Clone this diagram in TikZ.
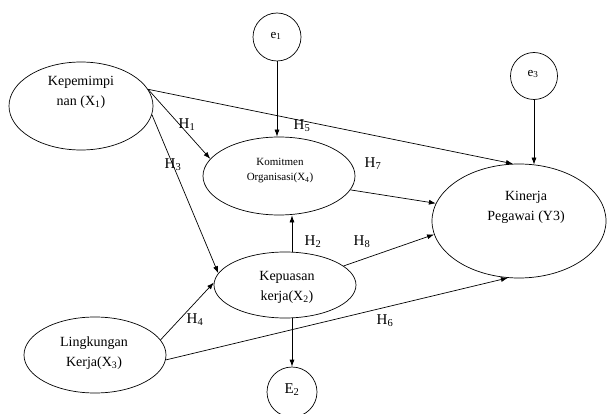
\documentclass[tikz,border=0pt]{standalone}
\usepackage{fontspec}
\setmainfont{Liberation Serif}
\usetikzlibrary{shapes.geometric,arrows.meta}
\tikzset{
  ell/.style={draw, ellipse, line width=0.7pt, inner sep=0pt},
  circ/.style={draw, circle, line width=0.7pt, inner sep=0pt},
  txt/.style={align=center, font=\fontsize{14}{20}\selectfont, inner sep=0pt},
  smalltxt/.style={align=center, font=\fontsize{11}{15}\selectfont, inner sep=0pt},
  hlab/.style={font=\fontsize{15}{17}\selectfont, inner sep=0pt},
  elab/.style={font=\fontsize{13}{15}\selectfont, inner sep=0pt},
  arr/.style={line width=0.7pt, -{Latex[length=7pt,width=5pt]}},
  ln/.style={line width=0.7pt}
}
\begin{document}
\begin{tikzpicture}[x=1pt,y=-1pt]
\useasboundingbox (0,0) rectangle (610,414);
\fill[white] (0,0) rectangle (610,414);
% ellipses and circles
\node[ell, minimum width=144pt, minimum height=88pt] (kep) at (81,106) {};
\node[txt] (keptxt) at (81,92) {Kepemimpi\\nan (X\textsubscript{1})};
\node[ell, minimum width=152pt, minimum height=78pt] (kom) at (279,176) {};
\node[smalltxt] (komtxt) at (280,171) {Komitmen\\Organisasi(X\textsubscript{4})};
\node[ell, minimum width=142pt, minimum height=66pt] (kpu) at (285,285) {};
\node[txt] (kputxt) at (287,287) {Kepuasan\\kerja(X\textsubscript{2})};
\node[ell, minimum width=174pt, minimum height=114pt] (kin) at (519,221) {};
\node[txt] (kintxt) at (526,207) {Kinerja\\Pegawai (Y3)};
\node[ell, minimum width=142pt, minimum height=76pt] (lin) at (95,355) {};
\node[txt] (lintxt) at (94,353) {Lingkungan\\Kerja(X\textsubscript{3})};
\node[circ, minimum size=48pt] (e1) at (277,37) {};
\node[elab] (e1txt) at (276,36) {e\textsubscript{1}};
\node[circ, minimum size=47pt] (e3) at (534,76) {};
\node[elab] (e3txt) at (533,74) {e\textsubscript{3}};
\node[circ, minimum size=50pt] (e2) at (292,392) {};
\node[hlab] (e2txt) at (292,390) {E\textsubscript{2}};
% connectors
\draw[arr] (kep.14) -- (kin.96);
\draw[arr] (kep.14) -- (kom.166);
\draw[arr] (kep.-7) -- (kpu.170);
\draw[arr] (lin.13) -- (kpu.178);
\draw[arr] (lin.-4) -- (kin.259);
\draw[arr] (e1.south) -- (kom.north -| e1);
\draw[arr] (e3.south) -- ([yshift=-1pt]kin.north -| e3);
\draw[arr] (kom.-11) -- (kin.168);
\draw[arr] (kpu.18) -- (kin.189);
\draw[arr] (kpu.north -| e2) -- (kom.south -| e2);
\draw[arr] (kpu.south -| e2) -- (e2.north);
% hypothesis labels
\node[hlab] (h1) at (187,125) {H\textsubscript{1}};
\node[hlab] (h3) at (173,165) {H\textsubscript{3}};
\node[hlab] (h5) at (302,126) {H\textsubscript{5}};
\node[hlab] (h7) at (373,164) {H\textsubscript{7}};
\node[hlab] (h2) at (313,242) {H\textsubscript{2}};
\node[hlab] (h8) at (362,242) {H\textsubscript{8}};
\node[hlab] (h4) at (195,320) {H\textsubscript{4}};
\node[hlab] (h6) at (385,321) {H\textsubscript{6}};
\end{tikzpicture}
\end{document}
